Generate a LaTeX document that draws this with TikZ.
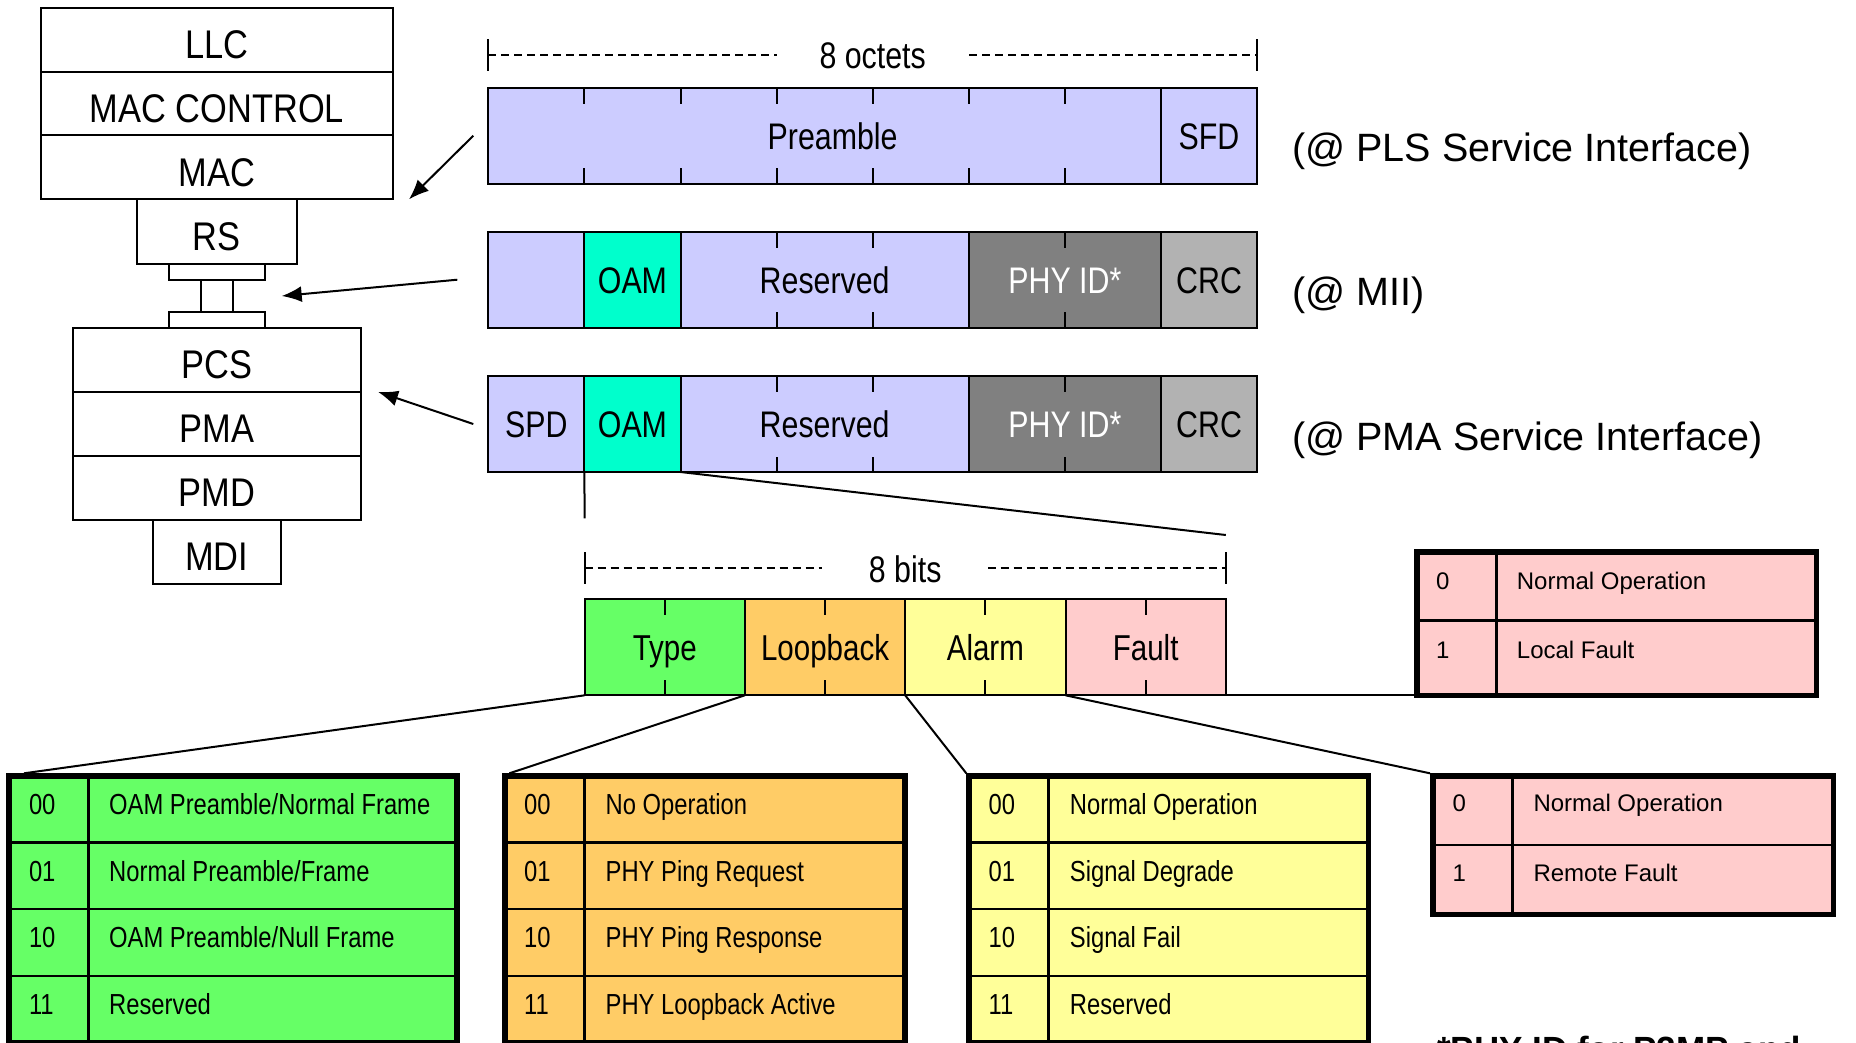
\documentclass[tikz,border=0pt]{standalone}
\usepackage{fontspec}
\setmainfont{Liberation Sans}
\newfontfamily\narrowfont{Liberation Sans}[FakeStretch=0.82]
\newfontfamily\stackfont{Liberation Sans}[FakeStretch=0.86]
\usepackage{tikz}
\usetikzlibrary{positioning}
\usetikzlibrary{arrows.meta}

\definecolor{lav}{HTML}{CCCCFF}
\definecolor{oamc}{HTML}{00FFCC}
\definecolor{phyc}{HTML}{808080}
\definecolor{crcc}{HTML}{B2B2B2}
\definecolor{tgreen}{HTML}{66FF66}
\definecolor{torange}{HTML}{FFCC66}
\definecolor{tyellow}{HTML}{FFFF99}
\definecolor{tpink}{HTML}{FFCCCC}

\tikzset{
  layer/.style={draw, line width=2pt, inner sep=0pt, outer sep=0pt, minimum height=63.9pt,
    font=\stackfont\fontsize{40}{46}\selectfont, text height=37.6pt, text depth=0pt},
  plug/.style={draw, line width=2pt, inner sep=0pt, outer sep=0pt},
  cell/.style={draw, line width=2pt, inner sep=0pt, outer sep=0pt, minimum height=96pt, fill=lav,
    font=\narrowfont\fontsize{37}{42}\selectfont, text height=27.5pt, text depth=0pt},
  bit/.style={cell, font=\narrowfont\fontsize{36}{42}\selectfont, text height=27pt},
  otick/.style={line width=2pt},
  dimline/.style={line width=2pt, dash pattern=on 8pt off 5pt},
  dimlbl/.style={fill=white, inner ysep=2pt, font=\narrowfont\fontsize{37}{42}\selectfont,
    text height=27.5pt, text depth=0pt},
  arr/.style={line width=2pt, -{Latex[length=20pt,width=16pt]}},
  link/.style={line width=2pt},
  iface/.style={inner sep=0pt, font=\fontsize{39.5}{45}\selectfont, text height=28pt, text depth=0pt},
  tab/.style={draw, line width=5.5pt, inner sep=0pt, anchor=north west},
  tline/.style={line width=2.5pt},
  tcode/.style={inner sep=0pt, anchor=west, font=\narrowfont\fontsize{29}{34}\selectfont,
    text height=20.8pt, text depth=0pt},
  pcode/.style={inner sep=0pt, anchor=west, font=\fontsize{24}{29}\selectfont,
    text height=17.2pt, text depth=0pt},
}

\begin{document}
\begin{tikzpicture}[x=1pt,y=-1pt]
    \useasboundingbox (0,0) rectangle (1856,1042);

    % layer stack
    \node[layer, minimum width=352.3pt, anchor=north west] (llc) at (40.7,7.65) {LLC};
    \node[layer, minimum width=352.3pt, below=0pt of llc] (macc) {MAC CONTROL};
    \node[layer, minimum width=352.3pt, below=0pt of macc] (mac) {MAC};
    \node[layer, minimum width=160pt, minimum height=64.3pt, below=0pt of mac] (rs) {RS};
    \node[plug, minimum width=96pt, minimum height=16.1pt, below=0pt of rs] (mii1) {};
    \node[plug, minimum width=31.7pt, minimum height=32.5pt, below=0pt of mii1] (mii) {};
    \node[plug, minimum width=96pt, minimum height=15.7pt, below=0pt of mii] (mii2) {};
    \node[layer, minimum width=288.3pt, below=0pt of mii2] (pcs) {PCS};
    \node[layer, minimum width=288.3pt, below=0pt of pcs] (pma) {PMA};
    \node[layer, minimum width=288.3pt, below=0pt of pma] (pmd) {PMD};
    \node[layer, minimum width=128.3pt, below=0pt of pmd] (mdi) {MDI};

    % the three preamble formats
    \node[cell, minimum width=672.7pt, anchor=north west] (pre) at (488.3,87.7) {\hspace*{16pt}Preamble};
    \node[cell, minimum width=96.1pt, right=0pt of pre] (sfd) {SFD};

    \node[cell, minimum width=96.1pt, anchor=north west] (blk) at (488.3,231.7) {};
    \node[cell, minimum width=96.1pt, fill=oamc, right=0pt of blk] (oam2) {OAM};
    \node[cell, minimum width=288.3pt, right=0pt of oam2] (res2) {Reserved};
    \node[cell, minimum width=192.2pt, fill=phyc, text=white, right=0pt of res2] (phy2) {PHY ID*};
    \node[cell, minimum width=96.1pt, fill=crcc, right=0pt of phy2] (crc2) {CRC};

    \node[cell, minimum width=96.1pt, anchor=north west] (spd) at (488.3,376) {SPD};
    \node[cell, minimum width=96.1pt, fill=oamc, right=0pt of spd] (oam3) {OAM};
    \node[cell, minimum width=288.3pt, right=0pt of oam3] (res3) {Reserved};
    \node[cell, minimum width=192.2pt, fill=phyc, text=white, right=0pt of res3] (phy3) {PHY ID*};
    \node[cell, minimum width=96.1pt, fill=crcc, right=0pt of phy3] (crc3) {CRC};

    \foreach \k in {1,...,6}
      \draw[otick] ({488.3+\k*96.1},87.7) -- ++(0,16) ({488.3+\k*96.1},183.7) -- ++(0,-15.5);
    \foreach \r in {231.7,376}
      \foreach \k in {3,4,6}
        \draw[otick] ({488.3+\k*96.1},\r) -- ++(0,16) ({488.3+\k*96.1},{\r+96}) -- ++(0,-15.5);

    \coordinate (o1) at ([yshift=32.7pt]pre.north west);
    \coordinate (o2) at ([yshift=32.7pt]sfd.north east);
    \draw[dimline] (o1) -- (o2) node[dimlbl, midway, inner xsep=43pt] (octs) {8 octets};
    \draw[otick] ([yshift=16pt]o1) -- ([yshift=-16pt]o1) ([yshift=16pt]o2) -- ([yshift=-16pt]o2);

    \node[iface, right=35pt of sfd, yshift=-12pt] (pls) {(@ PLS Service Interface)};
    \node[iface, right=35pt of crc2, yshift=-12pt] (mii3) {(@ MII)};
    \node[iface, right=35pt of crc3, yshift=-12pt] (pmasi) {(@ PMA Service Interface)};

    \draw[arr] ([xshift=-15pt]pre.west) -- ([xshift=16pt]mac.south east);
    \draw[arr] ([xshift=-31pt]blk.west) -- ([xshift=49pt]mii.east);
    \draw[arr] ([xshift=-15pt]spd.west) -- ([xshift=17pt]pcs.south east);

    % OAM octet
    \node[bit, fill=tgreen, minimum width=160.3pt, anchor=north west] (ty) at (584.6,599.3) {Type};
    \node[bit, fill=torange, minimum width=160.3pt, right=0pt of ty] (lpb) {Loopback};
    \node[bit, fill=tyellow, minimum width=160.3pt, right=0pt of lpb] (alm) {Alarm};
    \node[bit, fill=tpink, minimum width=160.3pt, right=0pt of alm] (flt) {Fault};
    \foreach \k in {1,3,5,7}
      \draw[otick] ({584.6+\k*80.15},599.3) -- ++(0,15.7) ({584.6+\k*80.15},695.3) -- ++(0,-15.3);

    \coordinate (b1) at ([yshift=31pt]ty.north west);
    \coordinate (b2) at ([yshift=31pt]flt.north east);
    \draw[dimline] (b1) -- (b2) node[dimlbl, midway, inner xsep=47pt] (bits) {8 bits};
    \draw[otick] ([yshift=16pt]b1) -- ([yshift=-16pt]b1) ([yshift=16pt]b2) -- ([yshift=-16pt]b2);

    \coordinate (zl) at ([yshift=81pt]ty.north west);
    \coordinate (zr) at ([yshift=64.3pt]flt.north east);
    \draw[link] (oam3.south west) -- (zl);
    \draw[link] (oam3.south east) -- (zr);

    % Type
    \node[tab, fill=tgreen, minimum width=448.25pt, minimum height=266.4pt] (ttype) at (6,773.3) {};
    \draw[tline] (88.7,776) -- (88.7,1042.4);
    \foreach \y in {842.6,909.2,975.8} \draw[tline] (8.75,\y) -- (457,\y);
    \node[tcode] (ty0) at (28.8,804) {00};
    \node[tcode] (ty1) at (28.8,870.6) {01};
    \node[tcode] (ty2) at (28.8,937.2) {10};
    \node[tcode] (ty3) at (28.8,1003.8) {11};
    \node[tcode] (ty0d) at (109,804) {OAM Preamble/Normal Frame};
    \node[tcode] (ty1d) at (109,870.6) {Normal Preamble/Frame};
    \node[tcode] (ty2d) at (109,937.2) {OAM Preamble/Null Frame};
    \node[tcode] (ty3d) at (109,1003.8) {Reserved};

    % Loopback
    \node[tab, fill=torange, minimum width=399.8pt, minimum height=266.4pt] (tloop) at (502.4,773.3) {};
    \draw[tline] (584.5,776) -- (584.5,1042.4);
    \foreach \y in {842.6,909.2,975.8} \draw[tline] (505.15,\y) -- (904.95,\y);
    \node[tcode] (lp0) at (524,804) {00};
    \node[tcode] (lp1) at (524,870.6) {01};
    \node[tcode] (lp2) at (524,937.2) {10};
    \node[tcode] (lp3) at (524,1003.8) {11};
    \node[tcode] (lp0d) at (605.5,804) {No Operation};
    \node[tcode] (lp1d) at (605.5,870.6) {PHY Ping Request};
    \node[tcode] (lp2d) at (605.5,937.2) {PHY Ping Response};
    \node[tcode] (lp3d) at (605.5,1003.8) {PHY Loopback Active};

    % Alarm
    \node[tab, fill=tyellow, minimum width=399.2pt, minimum height=266.4pt] (talarm) at (966.3,773.3) {};
    \draw[tline] (1048.6,776) -- (1048.6,1042.4);
    \foreach \y in {842.6,909.2,975.8} \draw[tline] (969.05,\y) -- (1368.25,\y);
    \node[tcode] (al0) at (988.5,804) {00};
    \node[tcode] (al1) at (988.5,870.6) {01};
    \node[tcode] (al2) at (988.5,937.2) {10};
    \node[tcode] (al3) at (988.5,1003.8) {11};
    \node[tcode] (al0d) at (1069.7,804) {Normal Operation};
    \node[tcode] (al1d) at (1069.7,870.6) {Signal Degrade};
    \node[tcode] (al2d) at (1069.7,937.2) {Signal Fail};
    \node[tcode] (al3d) at (1069.7,1003.8) {Reserved};

    % Fault, local and remote
    \node[tab, fill=tpink, minimum width=399.5pt, minimum height=143.5pt] (tloc) at (1414.3,549.3) {};
    \draw[tline] (1496.7,552) -- (1496.7,695.6);
    \draw[tline] (1417,620.7) -- (1816.6,620.7);
    \node[pcode] (lf0) at (1436,580.5) {0};
    \node[pcode] (lf1) at (1436,650) {1};
    \node[pcode] (lf0d) at (1516.7,580.5) {Normal Operation};
    \node[pcode] (lf1d) at (1516.7,650) {Local Fault};

    \node[tab, fill=tpink, minimum width=400.5pt, minimum height=138.5pt] (trem) at (1430,773.3) {};
    \draw[tline] (1512.7,776) -- (1512.7,914.3);
    \draw[tline] (1432.7,845) -- (1833.3,845);
    \node[pcode] (rf0) at (1452.5,803.3) {0};
    \node[pcode] (rf1) at (1452.5,873) {1};
    \node[pcode] (rf0d) at (1533.3,803.3) {Normal Operation};
    \node[pcode] (rf1d) at (1533.3,873) {Remote Fault};

    \draw[link] (ty.south west) -- ([xshift=18pt]ttype.north west);
    \draw[link] (lpb.south west) -- ([xshift=7pt]tloop.north west);
    \draw[link] (alm.south west) -- (talarm.north west);
    \draw[link] (flt.south west) -- (trem.north west);
    \draw[link] (flt.south east) -- (flt.south east -| tloc.west);

    \node[inner sep=0pt, anchor=base west, font=\bfseries\fontsize{35}{40}\selectfont] (note) at (1437,1061.7) {*PHY ID for P2MP and};
\end{tikzpicture}
\end{document}
